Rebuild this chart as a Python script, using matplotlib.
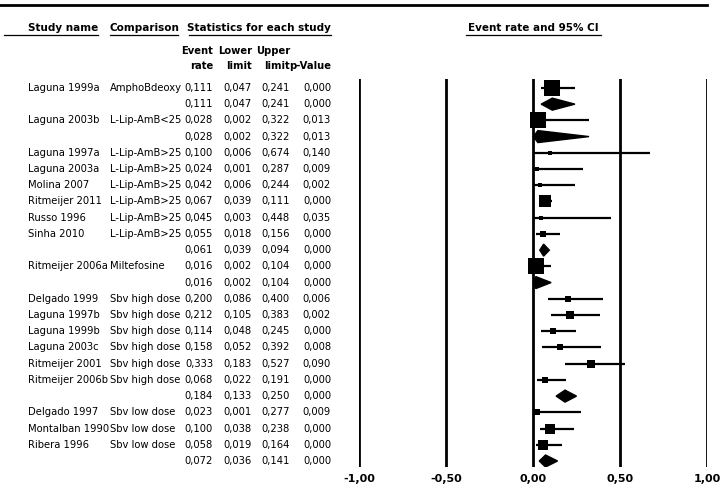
import matplotlib
matplotlib.use("Agg")
import matplotlib.pyplot as plt
from matplotlib.lines import Line2D
from matplotlib.patches import Polygon
from matplotlib.transforms import blended_transform_factory

# rows of the forest plot, top to bottom ("" name = subgroup summary)
study_names = ["Laguna 1999a", "", "Laguna 2003b", "", "Laguna 1997a", "Laguna 2003a",
               "Molina 2007", "Ritmeijer 2011", "Russo 1996", "Sinha 2010", "",
               "Ritmeijer 2006a", "", "Delgado 1999", "Laguna 1997b", "Laguna 1999b",
               "Laguna 2003c", "Ritmeijer 2001", "Ritmeijer 2006b", "", "Delgado 1997",
               "Montalban 1990", "Ribera 1996", ""]
comparisons = ["AmphoBdeoxy", "", "L-Lip-AmB<25", "", "L-Lip-AmB>25", "L-Lip-AmB>25",
               "L-Lip-AmB>25", "L-Lip-AmB>25", "L-Lip-AmB>25", "L-Lip-AmB>25", "",
               "Miltefosine", "", "Sbv high dose", "Sbv high dose", "Sbv high dose",
               "Sbv high dose", "Sbv high dose", "Sbv high dose", "", "Sbv low dose",
               "Sbv low dose", "Sbv low dose", ""]
is_summary = [False, True, False, True, False, False, False, False, False, False, True,
              False, True, False, False, False, False, False, False, True, False,
              False, False, True]
rate = [0.111, 0.111, 0.028, 0.028, 0.100, 0.024, 0.042, 0.067, 0.045, 0.055, 0.061,
        0.016, 0.016, 0.200, 0.212, 0.114, 0.158, 0.333, 0.068, 0.184, 0.023,
        0.100, 0.058, 0.072]
lower = [0.047, 0.047, 0.002, 0.002, 0.006, 0.001, 0.006, 0.039, 0.003, 0.018, 0.039,
         0.002, 0.002, 0.086, 0.105, 0.048, 0.052, 0.183, 0.022, 0.133, 0.001,
         0.038, 0.019, 0.036]
upper = [0.241, 0.241, 0.322, 0.322, 0.674, 0.287, 0.244, 0.111, 0.448, 0.156, 0.094,
         0.104, 0.104, 0.400, 0.383, 0.245, 0.392, 0.527, 0.191, 0.250, 0.277,
         0.238, 0.164, 0.141]
p_value = [0.000, 0.000, 0.013, 0.013, 0.140, 0.009, 0.002, 0.000, 0.035, 0.000, 0.000,
           0.000, 0.000, 0.006, 0.002, 0.000, 0.008, 0.090, 0.000, 0.000, 0.009,
           0.000, 0.000, 0.000]
# relative weight of each study (square size), summaries unused
weights = [15, 0, 15, 0, 3, 4, 4, 12, 3, 6, 0, 15, 0, 6, 7, 6, 5, 8, 5, 0, 5, 10, 10, 0]

x_ticks = [-1.0, -0.5, 0.0, 0.5, 1.0]


def fmt(v):
    return f"{v:.3f}".replace(".", ",")


W, H = 724, 491
fig = plt.figure(figsize=(W / 100, H / 100), dpi=100)
plt.rcParams['font.family'] = ['DejaVu Sans']

def fx(px):
    return px / W

def fy(py):
    return 1 - py / H

# forest plot axes: x from -1 (359px) to 1 (707px), lines from y=79 to 467
ax = fig.add_axes([fx(359), fy(467), fx(707) - fx(359), fy(79) - fy(467)])
n = len(rate)
rows = list(range(1, n + 1))
ax.set_xlim(-1, 1)
ax.set_ylim(n + 0.37, 0.45)
for s in ax.spines.values():
    s.set_visible(False)
ax.set_yticks([])
ax.set_xticks(x_ticks)
ax.set_xticklabels([f"{t:.2f}".replace(".", ",") for t in x_ticks],
                   fontweight="bold", fontsize=8)
ax.tick_params(axis="x", length=0, pad=5)
ax.patch.set_visible(False)

for t in x_ticks:
    ax.axvline(t, color="black", lw=2.0, zorder=1)

for y, r, lo, hi, summ, w in zip(rows, rate, lower, upper, is_summary, weights):
    if summ:
        h = 0.37
        ax.add_patch(Polygon([(lo, y), (r, y - h), (hi, y), (r, y + h)],
                             closed=True, color="black", zorder=3))
    else:
        ax.plot([lo, hi], [y, y], color="black", lw=1.6, zorder=2, solid_capstyle="butt")
        ax.plot([r], [y], marker="s", color="black", markersize=w * 0.75,
                markeredgewidth=0, zorder=3)

# table text, rows aligned with axes data coordinates
tr = blended_transform_factory(fig.transFigure, ax.transData)
fs = 7.2
for y, name, comp, r, lo, hi, p in zip(rows, study_names, comparisons, rate, lower, upper, p_value):
    ax.text(fx(28), y, name, transform=tr, ha="left", va="center", fontsize=fs, clip_on=False)
    ax.text(fx(110), y, comp, transform=tr, ha="left", va="center", fontsize=fs, clip_on=False)
    for xr, v in zip([213, 252, 290, 331], [r, lo, hi, p]):
        ax.text(fx(xr), y, fmt(v), transform=tr, ha="right", va="center", fontsize=fs, clip_on=False)

# headers
hy = 28
hfs = 7.5
fig.text(fx(98), fy(hy), "Study name", ha="right", va="center", fontsize=hfs, fontweight="bold")
fig.text(fx(110), fy(hy), "Comparison", ha="left", va="center", fontsize=hfs, fontweight="bold")
fig.text(fx(331), fy(hy), "Statistics for each study", ha="right", va="center",
         fontsize=hfs, fontweight="bold")
fig.text(fx(533), fy(hy), "Event rate and 95% CI", ha="center", va="center",
         fontsize=hfs, fontweight="bold")
for x0, x1 in [(4, 98), (110, 178), (189, 331), (466, 601)]:
    fig.add_artist(Line2D([fx(x0), fx(x1)], [fy(35), fy(35)], color="black", lw=0.9))

for xr, t1, t2 in [(213, "Event", "rate"), (252, "Lower", "limit"),
                   (290, "Upper", "limit"), (331, "", "p-Value")]:
    fig.text(fx(xr), fy(51), t1, ha="right", va="center", fontsize=fs, fontweight="bold")
    fig.text(fx(xr), fy(66), t2, ha="right", va="center", fontsize=fs, fontweight="bold")

# top rule
fig.add_artist(Line2D([0, fx(707)], [fy(5), fy(5)], color="black", lw=2.0))

fig.savefig("out.png", dpi=100)
